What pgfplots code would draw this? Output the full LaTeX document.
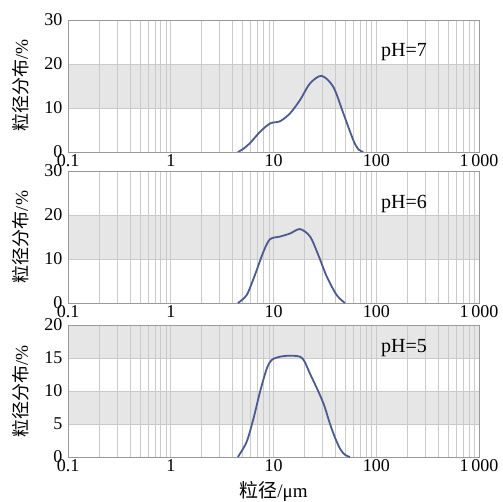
\documentclass[border=0pt]{standalone}
\usepackage{pgfplots}
\pgfplotsset{compat=1.18}
\usepackage{fontspec}
\setmainfont{Liberation Serif}
\newfontfamily\cjk{Noto Sans CJK SC}
\definecolor{band}{HTML}{E6E6E6}
\definecolor{gridc}{HTML}{CACACA}
\definecolor{curve}{HTML}{4D5A8F}
\definecolor{framec}{HTML}{9A9A9A}

\pgfplotstableread{
x y
4.5 0
5.0 0.6
5.9 2.0
7.4 4.6
9.3 6.5
11.6 7.0
14.5 8.8
18.1 11.8
22.7 15.6
29.4 17.3
38.2 14.8
47.8 8.8
59.8 2.7
67 0.6
74.8 0
}\phseven

\pgfplotstableread{
x y
4.5 0
5.48 1.8
6.6 6.4
8.0 11.7
9.25 14.5
11.6 15.1
14.5 15.8
18.1 16.8
22.7 15.1
27.3 10.9
33 6.0
41.2 1.8
49.6 0
}\phsix

\pgfplotstableread{
x y
4.5 0
5.48 2.3
6.4 5.9
7.4 9.9
8.6 13.4
9.6 14.7
11.6 15.2
14.5 15.35
18.1 15.2
20 14.5
22.7 12.6
27 10.1
31 7.9
35.5 5.0
40 2.8
45 1.1
50 0.3
55.6 0
}\phfive

\pgfplotsset{
    scale only axis,
    width=411pt, height=132pt,
    xmin=0.1, xmax=1000,
    ymin=0,
    xtick={0.1,1,10,100,1000},
    xticklabels={0.1,1,10,100,1\,000},
    minor x tick num=8,
    grid=both,
    major grid style={draw=gridc, line width=0.6pt},
    minor grid style={draw=gridc, line width=0.6pt},
    major tick length=0pt, minor tick length=0pt,
    axis line style={draw=framec, line width=0.8pt},
    tick label style={font=\fontsize{18}{20}\selectfont},
    /pgf/number format/assume math mode=true,
    ylabel style={at={(axis description cs:-0.114,0.5)}, anchor=center, font=\fontsize{18}{20}\selectfont},
    xticklabel style={yshift=1pt},
    yticklabel style={xshift=-2pt},
}

\begin{document}
\begin{tikzpicture}
% top: pH=7
\begin{semilogxaxis}[set layers, anchor=north west, at={(0pt,0pt)}, ymax=30, ytick={0,10,20,30}, ylabel={{\cjk 粒径分布}/\%}]
\pgfonlayer{axis background}
\fill[band] (axis cs:0.1,10) rectangle (axis cs:1000,20);
\endpgfonlayer
\addplot[curve, line width=1.8pt, smooth, tension=0.5] table[x=x,y=y] {\phseven};
\node[font=\fontsize{20}{22}\selectfont, anchor=base] at (axis cs:186,21.6) {pH=7};
\end{semilogxaxis}
% middle: pH=6
\begin{semilogxaxis}[set layers, anchor=north west, at={(0pt,-151pt)}, ymax=30, ytick={0,10,20,30}, ylabel={{\cjk 粒径分布}/\%}]
\pgfonlayer{axis background}
\fill[band] (axis cs:0.1,10) rectangle (axis cs:1000,20);
\endpgfonlayer
\addplot[curve, line width=1.8pt, smooth, tension=0.5] table[x=x,y=y] {\phsix};
\node[font=\fontsize{20}{22}\selectfont, anchor=base] at (axis cs:186,21.4) {pH=6};
\end{semilogxaxis}
% bottom: pH=5
\begin{semilogxaxis}[set layers, anchor=north west, at={(0pt,-305pt)}, ymax=20, ytick={0,5,10,15,20}, ylabel={{\cjk 粒径分布}/\%},
  xlabel={{\cjk 粒径}/μm},
  xlabel style={font=\fontsize{19}{21}\selectfont, at={(axis description cs:0.5,0)}, anchor=north, yshift=-21pt}]
\pgfonlayer{axis background}
\fill[band] (axis cs:0.1,5) rectangle (axis cs:1000,10);
\fill[band] (axis cs:0.1,15) rectangle (axis cs:1000,20);
\endpgfonlayer
\addplot[curve, line width=1.8pt, smooth, tension=0.5] table[x=x,y=y] {\phfive};
\node[font=\fontsize{20}{22}\selectfont, anchor=base] at (axis cs:186,15.8) {pH=5};
\end{semilogxaxis}
\pgfresetboundingbox
\useasboundingbox (-68pt,20pt) rectangle (435pt,-481pt);
\end{tikzpicture}
\end{document}
